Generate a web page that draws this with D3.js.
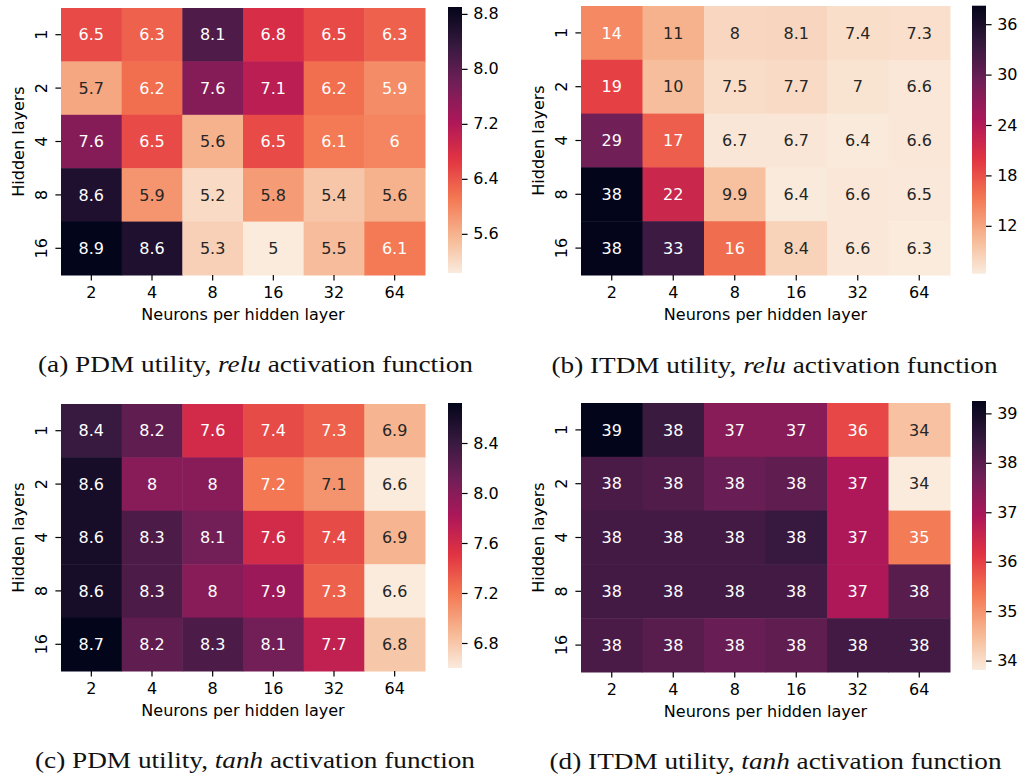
<!DOCTYPE html>
<html>
<head>
<meta charset="utf-8">
<script src="https://cdn.jsdelivr.net/npm/d3@7"></script>
<style>
  body { margin: 0; background: #fff; }
  svg text { font-family: 'DejaVu Sans', sans-serif; }
  svg text.caption { font-family: 'Liberation Serif', serif; }
</style>
</head>
<body>
<svg id="chart" width="1022" height="778"></svg>
<script>
const neurons      = ['2', '4', '8', '16', '32', '64'];
const hiddenLayers = ['1', '2', '4', '8', '16'];

// rows = hidden layers, columns = neurons per hidden layer
const pdmRelu = [
  [6.5, 6.3, 8.1, 6.8, 6.5, 6.3],
  [5.7, 6.2, 7.6, 7.1, 6.2, 5.94],
  [7.6, 6.5, 5.6, 6.5, 6.1, 6.0],
  [8.6, 5.86, 5.2, 5.8, 5.4, 5.6],
  [8.9, 8.6, 5.3, 5.03, 5.5, 6.1]
];
const itdmRelu = [
  [14, 11, 8.0, 8.1, 7.4, 7.3],
  [19, 10, 7.5, 7.7, 7.0, 6.6],
  [29, 17, 6.7, 6.7, 6.4, 6.6],
  [38.2, 22, 9.9, 6.4, 6.6, 6.5],
  [38.1, 33, 16, 8.4, 6.6, 6.3]
];
const pdmTanh = [
  [8.4, 8.2, 7.6, 7.4, 7.3, 6.9],
  [8.6, 8.0, 8.0, 7.2, 7.06, 6.6],
  [8.6, 8.3, 8.1, 7.6, 7.4, 6.9],
  [8.6, 8.3, 8.0, 7.9, 7.3, 6.6],
  [8.72, 8.2, 8.3, 8.1, 7.7, 6.8]
];
const itdmTanh = [
  [39.25, 38.4, 37.4, 37.4, 35.9, 34.4],
  [38.2, 38.1, 37.8, 37.9, 36.9, 33.81],
  [38.3, 38.3, 38.3, 38.45, 36.9, 35.3],
  [38.3, 38.3, 38.3, 38.3, 36.9, 38.0],
  [38.2, 38.0, 37.8, 37.9, 38.3, 38.3]
];

const pdmReluTicks  = [5.6, 6.4, 7.2, 8.0, 8.8];
const itdmReluTicks = [12, 18, 24, 30, 36];
const pdmTanhTicks  = [6.8, 7.2, 7.6, 8.0, 8.4];
const itdmTanhTicks = [34, 35, 36, 37, 38, 39];

const captions = [
  ['(a) PDM utility, ', 'relu', ' activation function'],
  ['(b) ITDM utility, ', 'relu', ' activation function'],
  ['(c) PDM utility, ', 'tanh', ' activation function'],
  ['(d) ITDM utility, ', 'tanh', ' activation function']
];

// rocket_r colour map
const ROCKET_R = ['#faebdd', '#f6b48f', '#f37651', '#e13342', '#ad1759', '#701f57', '#35193e', '#03051a'];
const rocketR = d3.scaleLinear()
  .domain(ROCKET_R.map((_, i) => i / (ROCKET_R.length - 1)))
  .range(ROCKET_R)
  .interpolate(d3.interpolateRgb)
  .clamp(true);

const FONT = 16;
const TICK = 5.6;

const luminance = c => {
  const { r, g, b } = d3.rgb(c);
  const lin = v => {
    v /= 255;
    return v <= 0.03928 ? v / 12.92 : Math.pow((v + 0.055) / 1.055, 2.4);
  };
  return 0.2126 * lin(r) + 0.7152 * lin(g) + 0.0722 * lin(b);
};

class HeatmapPanel {
  constructor(svg, layout, id) {
    this.svg = svg;
    this.L = layout;
    this.id = id;
    this.group = svg.append('g').attr('class', `panel panel-${id}`);
  }

  draw(values, ticks, tickFormat, caption) {
    const L = this.L;
    const extent = d3.extent(values.flat());
    const norm = d3.scaleLinear().domain(extent).range([0, 1]);
    const color = v => rocketR(norm(v));

    this.x = d3.scaleBand().domain(neurons).range([L.x, L.x + L.w]);
    this.y = d3.scaleBand().domain(hiddenLayers).range([L.y, L.y + L.h]);

    this.drawCells(values, color);
    this.drawAxes();
    this.drawColorbar(extent, ticks, tickFormat, color);
    this.drawCaption(caption);
  }

  drawCells(values, color) {
    const cells = values.flatMap((row, i) =>
      row.map((v, j) => ({ row: hiddenLayers[i], col: neurons[j], v })));
    const x = this.x, y = this.y;

    this.group.append('g').selectAll('rect')
      .data(cells)
      .enter().append('rect')
        .attr('x', d => x(d.col))
        .attr('y', d => y(d.row))
        .attr('width', x.bandwidth() + 0.5)
        .attr('height', y.bandwidth() + 0.5)
        .attr('fill', d => color(d.v));

    const fmt = d3.format('.2~g');
    this.group.append('g').selectAll('text')
      .data(cells)
      .enter().append('text')
        .attr('x', d => x(d.col) + x.bandwidth() / 2)
        .attr('y', d => y(d.row) + y.bandwidth() / 2)
        .attr('dy', '0.36em')
        .attr('text-anchor', 'middle')
        .attr('font-size', FONT)
        .attr('fill', d => luminance(color(d.v)) > 0.408 ? '#262626' : '#ffffff')
        .text(d => fmt(d.v));
  }

  drawAxes() {
    const L = this.L;
    const xAxis = this.group.append('g')
      .attr('transform', `translate(0,${L.y + L.h})`)
      .call(d3.axisBottom(this.x).tickSize(TICK).tickPadding(TICK));
    const yAxis = this.group.append('g')
      .attr('transform', `translate(${L.x},0)`)
      .call(d3.axisLeft(this.y).tickSize(TICK).tickPadding(TICK));

    [xAxis, yAxis].forEach(a => {
      a.select('.domain').remove();
      a.selectAll('line').attr('stroke', '#000').attr('stroke-width', 1.2);
      a.selectAll('text').attr('font-size', FONT).attr('fill', '#000')
        .attr('font-family', 'DejaVu Sans');
    });

    yAxis.selectAll('.tick text')
      .attr('x', null).attr('dy', null)
      .attr('text-anchor', 'middle')
      .attr('transform', 'translate(-14.5,0) rotate(-90)');

    this.group.append('text')
      .attr('x', L.x + L.w / 2)
      .attr('y', L.y + L.h + 45)
      .attr('text-anchor', 'middle')
      .attr('font-size', FONT)
      .text('Neurons per hidden layer');

    this.group.append('text')
      .attr('transform', `translate(${L.x - 37.5},${L.y + L.h / 2}) rotate(-90)`)
      .attr('text-anchor', 'middle')
      .attr('font-size', FONT)
      .text('Hidden layers');
  }

  drawColorbar(extent, ticks, tickFormat, color) {
    const L = this.L;
    const gradId = `grad-${this.id}`;
    const grad = this.svg.append('defs').append('linearGradient')
      .attr('id', gradId)
      .attr('x1', 0).attr('y1', 1).attr('x2', 0).attr('y2', 0);
    d3.range(0, 1.0001, 0.02).forEach(s => {
      grad.append('stop')
        .attr('offset', s)
        .attr('stop-color', color(extent[0] + s * (extent[1] - extent[0])));
    });

    this.group.append('rect')
      .attr('x', L.cbX).attr('y', L.cbY)
      .attr('width', 14).attr('height', L.cbH)
      .attr('fill', `url(#${gradId})`);

    const cy = d3.scaleLinear().domain(extent).range([L.cbY + L.cbH, L.cbY]);
    const axis = this.group.append('g')
      .attr('transform', `translate(${L.cbX + 14},0)`)
      .call(d3.axisRight(cy).tickValues(ticks)
        .tickFormat(d3.format(tickFormat)).tickSize(TICK).tickPadding(TICK));
    axis.select('.domain').remove();
    axis.selectAll('line').attr('stroke', '#000').attr('stroke-width', 1.2);
    axis.selectAll('text').attr('font-size', FONT).attr('fill', '#000')
      .attr('font-family', 'DejaVu Sans');
  }

  drawCaption(caption) {
    const L = this.L;
    const text = this.group.append('text')
      .attr('class', 'caption')
      .attr('x', L.capX - L.capW / 2)
      .attr('y', L.capY)
      .attr('font-size', 24)
      .attr('fill', '#111')
      .attr('textLength', L.capW)
      .attr('lengthAdjust', 'spacingAndGlyphs');
    text.append('tspan').text(caption[0]);
    text.append('tspan').attr('font-style', 'italic').text(caption[1]);
    text.append('tspan').text(caption[2]);
  }
}

const svg = d3.select('#chart');

const layouts = [
  { x: 61,  y: 8,   w: 364, h: 267, cbX: 448, cbY: 7,   cbH: 266, capX: 255.5, capW: 435, capY: 372 },
  { x: 581, y: 6,   w: 369, h: 269, cbX: 972, cbY: 5.7, cbH: 268, capX: 774.5, capW: 446, capY: 372.7 },
  { x: 61,  y: 404, w: 364, h: 267, cbX: 448, cbY: 403, cbH: 265, capX: 255,   capW: 440, capY: 768.3 },
  { x: 581, y: 403, w: 369, h: 269, cbX: 972, cbY: 401, cbH: 269, capX: 775.5, capW: 452, capY: 769.3 }
];

new HeatmapPanel(svg, layouts[0], 'a').draw(pdmRelu,  pdmReluTicks,  '.1f', captions[0]);
new HeatmapPanel(svg, layouts[1], 'b').draw(itdmRelu, itdmReluTicks, 'd',   captions[1]);
new HeatmapPanel(svg, layouts[2], 'c').draw(pdmTanh,  pdmTanhTicks,  '.1f', captions[2]);
new HeatmapPanel(svg, layouts[3], 'd').draw(itdmTanh, itdmTanhTicks, 'd',   captions[3]);
</script>
</body>
</html>
